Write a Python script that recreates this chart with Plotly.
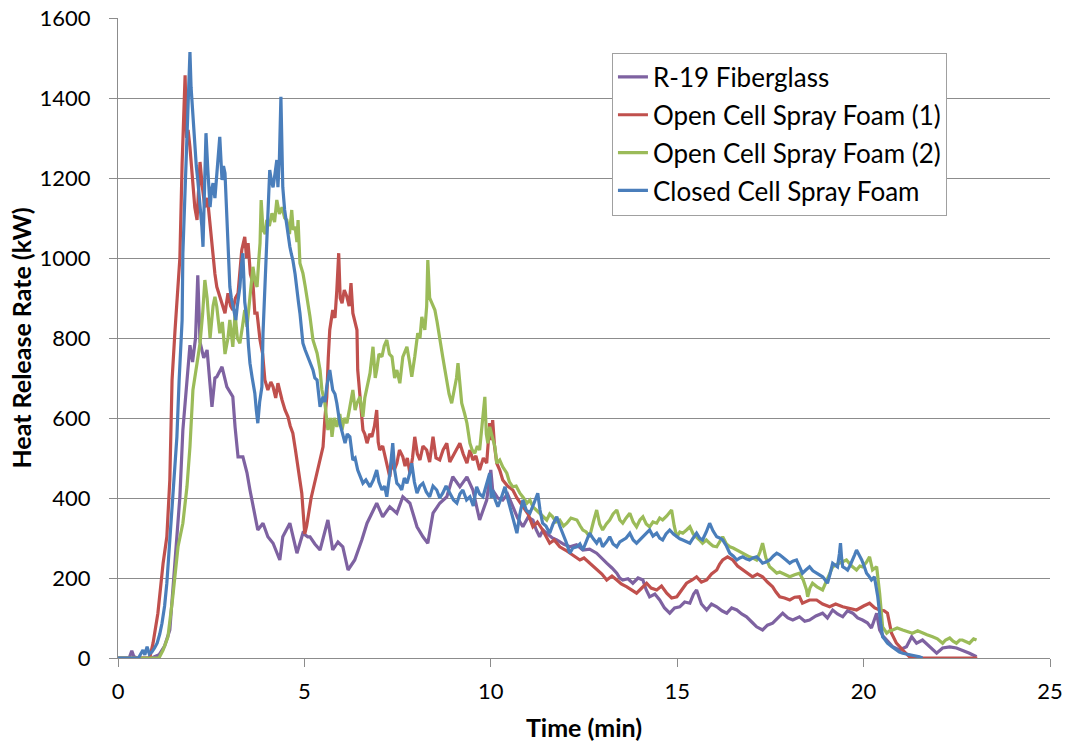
import plotly.graph_objects as go

# (time in min, heat release rate in kW)
r19_fiberglass = [
    (0, 0), (0.3, 0), (0.37, 18), (0.42, 5), (0.5, 0), (0.9, 0), (1.1, 8), (1.25, 30), (1.39, 70),
    (1.53, 237), (1.66, 403), (1.74, 570), (1.88, 712), (1.93, 782), (2.0, 740), (2.08, 800),
    (2.14, 957), (2.2, 790), (2.3, 750), (2.39, 770), (2.52, 628), (2.6, 700), (2.65, 703),
    (2.79, 728), (2.92, 678), (3.08, 653), (3.14, 578), (3.22, 503), (3.35, 503), (3.46, 463),
    (3.54, 420), (3.62, 378), (3.75, 320), (3.89, 337), (4.02, 303), (4.16, 287), (4.34, 245),
    (4.42, 303), (4.61, 337), (4.8, 262), (4.96, 312), (5.09, 303), (5.15, 303), (5.28, 285),
    (5.42, 270), (5.63, 345), (5.76, 270), (5.9, 290), (6.03, 278), (6.17, 220), (6.35, 245),
    (6.54, 295), (6.68, 337), (6.94, 387), (7.1, 353), (7.29, 378), (7.48, 362), (7.64, 403),
    (7.83, 387), (8.02, 328), (8.18, 303), (8.31, 287), (8.45, 362), (8.63, 387), (8.82, 403),
    (8.98, 453), (9.17, 428), (9.36, 453), (9.52, 420), (9.7, 345), (9.89, 395), (10.0, 470),
    (10.05, 420), (10.19, 400), (10.32, 395), (10.45, 410), (10.59, 378), (10.72, 350),
    (10.86, 328), (11.0, 352), (11.13, 345), (11.22, 320), (11.31, 303), (11.4, 320), (11.5, 312),
    (11.65, 300), (11.77, 295), (11.95, 285), (12.12, 278), (12.3, 283), (12.47, 270),
    (12.65, 272), (12.84, 262), (12.98, 248), (13.11, 237), (13.25, 225), (13.38, 212),
    (13.46, 200), (13.54, 195), (13.68, 198), (13.81, 187), (13.95, 200), (14.08, 195),
    (14.17, 170), (14.26, 153), (14.4, 160), (14.53, 145), (14.66, 125), (14.8, 112),
    (14.93, 125), (15.07, 128), (15.2, 140), (15.34, 137), (15.44, 160), (15.52, 170),
    (15.65, 135), (15.79, 120), (15.92, 135), (16.06, 128), (16.2, 118), (16.33, 112),
    (16.46, 125), (16.6, 120), (16.73, 110), (16.86, 103), (17.0, 90), (17.13, 78), (17.29, 70),
    (17.42, 82), (17.56, 87), (17.7, 100), (17.83, 112), (17.97, 100), (18.1, 95), (18.28, 103),
    (18.42, 92), (18.55, 95), (18.72, 105), (18.9, 112), (19.03, 100), (19.17, 120), (19.3, 110),
    (19.44, 103), (19.57, 118), (19.71, 112), (19.84, 100), (19.97, 95), (20.1, 88), (20.21, 75),
    (20.35, 112), (20.43, 70), (20.52, 55), (20.62, 45), (20.78, 28), (20.96, 20), (21.15, 28),
    (21.29, 53), (21.42, 37), (21.58, 45), (21.77, 28), (21.96, 12), (22.12, 25), (22.31, 28),
    (22.49, 25), (22.65, 20), (22.84, 12), (23.03, 3),
]

open_cell_1 = [
    (0, 0), (0.85, 0), (0.94, 37), (1.07, 112), (1.21, 237), (1.31, 303), (1.39, 445), (1.45, 695),
    (1.53, 820), (1.6, 930), (1.66, 1000), (1.72, 1237), (1.76, 1380), (1.80, 1457), (1.84, 1300),
    (1.88, 1320), (1.93, 1277), (2.0, 1200), (2.06, 1127), (2.12, 1095), (2.2, 1240), (2.26, 1180),
    (2.33, 1127), (2.4, 1150), (2.47, 1077), (2.55, 1012), (2.6, 960), (2.65, 928), (2.73, 903),
    (2.8, 880), (2.87, 862), (2.95, 912), (3.02, 880), (3.08, 870), (3.15, 900), (3.22, 912),
    (3.28, 980), (3.32, 1020), (3.40, 1053), (3.45, 1000), (3.49, 1037), (3.55, 960), (3.62, 937),
    (3.67, 862), (3.73, 862), (3.81, 795), (3.88, 760), (3.94, 695), (4.02, 670), (4.1, 690),
    (4.16, 678), (4.23, 650), (4.29, 687), (4.35, 660), (4.40, 645), (4.48, 620), (4.56, 603),
    (4.62, 580), (4.69, 562), (4.76, 520), (4.83, 478), (4.88, 440), (4.93, 412), (4.97, 360),
    (5.01, 310), (5.06, 330), (5.12, 370), (5.18, 400), (5.23, 420), (5.3, 450), (5.36, 470),
    (5.43, 500), (5.50, 528), (5.55, 600), (5.60, 653), (5.64, 750), (5.68, 820), (5.76, 870),
    (5.82, 850), (5.87, 920), (5.92, 1012), (5.96, 900), (6.01, 887), (6.07, 920), (6.14, 903),
    (6.2, 880), (6.25, 937), (6.30, 862), (6.36, 840), (6.41, 820), (6.43, 720), (6.49, 653),
    (6.57, 570), (6.62, 560), (6.68, 537), (6.75, 560), (6.81, 553), (6.88, 580), (6.94, 620),
    (6.98, 540), (7.02, 520), (7.1, 530), (7.16, 503), (7.22, 480), (7.29, 453), (7.35, 500),
    (7.41, 470), (7.48, 487), (7.55, 520), (7.64, 503), (7.7, 480), (7.76, 500), (7.83, 462),
    (7.9, 500), (7.96, 553), (8.03, 510), (8.10, 495), (8.18, 530), (8.28, 520), (8.36, 490),
    (8.45, 553), (8.53, 500), (8.63, 495), (8.72, 520), (8.82, 537), (8.9, 490), (8.98, 503),
    (9.07, 520), (9.17, 537), (9.26, 510), (9.36, 487), (9.44, 520), (9.52, 495), (9.6, 505),
    (9.70, 470), (9.8, 500), (9.89, 487), (9.94, 550), (9.97, 587), (10.01, 545), (10.05, 595),
    (10.10, 530), (10.16, 487), (10.24, 470), (10.32, 445), (10.45, 430), (10.59, 420),
    (10.7, 400), (10.86, 378), (11.0, 360), (11.13, 328), (11.25, 340), (11.39, 320),
    (11.48, 305), (11.58, 287), (11.7, 295), (11.85, 278), (12.0, 270), (12.12, 262),
    (12.25, 255), (12.39, 245), (12.5, 250), (12.65, 237), (12.75, 230), (12.84, 220),
    (12.98, 210), (13.11, 195), (13.25, 205), (13.38, 195), (13.5, 185), (13.65, 178),
    (13.78, 170), (13.91, 162), (14.05, 175), (14.18, 187), (14.3, 175), (14.45, 170),
    (14.58, 180), (14.72, 162), (14.85, 150), (14.99, 153), (15.12, 170), (15.25, 187),
    (15.4, 195), (15.52, 203), (15.65, 190), (15.79, 195), (15.92, 210), (16.06, 220),
    (16.14, 235), (16.22, 245), (16.35, 253), (16.49, 245), (16.62, 230), (16.76, 220),
    (16.9, 210), (17.02, 203), (17.15, 210), (17.29, 203), (17.42, 190), (17.56, 178),
    (17.65, 165), (17.75, 153), (17.88, 150), (18.02, 145), (18.15, 152), (18.28, 153),
    (18.36, 137), (18.55, 145), (18.74, 145), (18.9, 135), (19.09, 128), (19.25, 135),
    (19.44, 128), (19.6, 125), (19.81, 120), (20.0, 130), (20.16, 137), (20.3, 125),
    (20.43, 120), (20.55, 118), (20.64, 112), (20.75, 62), (20.88, 37), (21.05, 20),
    (21.23, 3), (21.4, 0), (23.05, 0),
]

open_cell_2 = [
    (0, 0), (1.1, 0), (1.21, 20), (1.34, 53), (1.47, 153), (1.61, 278), (1.74, 337), (1.85, 428),
    (1.93, 528), (2.01, 670), (2.12, 737), (2.2, 787), (2.27, 860), (2.33, 945), (2.39, 900),
    (2.47, 800), (2.55, 880), (2.6, 903), (2.65, 878), (2.73, 812), (2.8, 840), (2.87, 760),
    (2.95, 800), (3.0, 845), (3.08, 778), (3.14, 862), (3.2, 800), (3.27, 787), (3.34, 830),
    (3.40, 870), (3.46, 828), (3.54, 895), (3.62, 978), (3.68, 940), (3.73, 928), (3.78, 1000),
    (3.81, 1037), (3.84, 1145), (3.89, 1070), (3.95, 1060), (3.99, 1095), (4.06, 1080),
    (4.13, 1112), (4.2, 1090), (4.26, 1145), (4.33, 1110), (4.40, 1127), (4.47, 1100),
    (4.53, 1095), (4.6, 1060), (4.66, 1120), (4.7, 1070), (4.75, 1078), (4.8, 1040), (4.83, 1095),
    (4.88, 987), (4.96, 962), (5.02, 930), (5.07, 903), (5.15, 853), (5.23, 795), (5.34, 762),
    (5.42, 720), (5.47, 670), (5.55, 637), (5.63, 570), (5.7, 600), (5.74, 553), (5.8, 600),
    (5.87, 578), (5.95, 610), (6.01, 570), (6.07, 600), (6.14, 587), (6.22, 628), (6.3, 670),
    (6.36, 620), (6.41, 637), (6.49, 653), (6.57, 603), (6.62, 650), (6.68, 678), (6.76, 712),
    (6.84, 778), (6.9, 700), (6.94, 720), (7.0, 760), (7.08, 753), (7.14, 780), (7.21, 795),
    (7.28, 760), (7.35, 753), (7.42, 700), (7.48, 720), (7.56, 687), (7.64, 753), (7.70, 770),
    (7.75, 778), (7.82, 740), (7.88, 703), (7.96, 753), (8.04, 812), (8.1, 800), (8.15, 853),
    (8.23, 820), (8.28, 880), (8.31, 995), (8.36, 900), (8.42, 887), (8.50, 870), (8.56, 840),
    (8.63, 795), (8.71, 753), (8.77, 720), (8.82, 695), (8.88, 660), (8.95, 637), (9.03, 678),
    (9.08, 700), (9.12, 737), (9.17, 680), (9.22, 637), (9.3, 610), (9.36, 587), (9.44, 537),
    (9.5, 520), (9.57, 512), (9.64, 530), (9.70, 520), (9.77, 580), (9.84, 653), (9.88, 560),
    (9.92, 537), (9.97, 578), (10.03, 553), (10.11, 528), (10.16, 487), (10.24, 495),
    (10.32, 478), (10.43, 462), (10.5, 440), (10.59, 428), (10.68, 430), (10.78, 412),
    (10.88, 400), (10.97, 387), (11.05, 395), (11.13, 378), (11.22, 370), (11.31, 362),
    (11.4, 355), (11.5, 345), (11.58, 360), (11.66, 353), (11.75, 340), (11.85, 345),
    (11.95, 330), (12.04, 337), (12.15, 350), (12.31, 345), (12.4, 330), (12.47, 320),
    (12.56, 315), (12.65, 303), (12.75, 340), (12.84, 370), (12.92, 335), (13.0, 320),
    (13.1, 335), (13.19, 345), (13.28, 360), (13.38, 370), (13.46, 345), (13.54, 337),
    (13.63, 350), (13.73, 362), (13.82, 340), (13.91, 328), (14.0, 345), (14.08, 353),
    (14.17, 335), (14.26, 328), (14.35, 340), (14.45, 337), (14.53, 350), (14.61, 345),
    (14.72, 355), (14.85, 370), (14.92, 330), (14.99, 303), (15.07, 315), (15.15, 312),
    (15.25, 320), (15.34, 328), (15.43, 310), (15.52, 303), (15.6, 295), (15.68, 287),
    (15.78, 295), (15.87, 287), (15.96, 280), (16.06, 278), (16.14, 290), (16.22, 303),
    (16.32, 285), (16.41, 278), (16.5, 275), (16.6, 270), (16.68, 265), (16.76, 262),
    (16.85, 258), (16.94, 253), (17.03, 250), (17.13, 245), (17.22, 265), (17.29, 287),
    (17.38, 250), (17.48, 228), (17.58, 220), (17.67, 212), (17.75, 215), (17.83, 212),
    (17.92, 208), (18.02, 203), (18.15, 208), (18.28, 212), (18.38, 195), (18.47, 170),
    (18.50, 153), (18.56, 175), (18.63, 187), (18.75, 178), (18.9, 170), (19.03, 200),
    (19.17, 228), (19.3, 235), (19.42, 240), (19.54, 245), (19.68, 230), (19.81, 220),
    (19.9, 230), (19.97, 228), (20.08, 240), (20.16, 253), (20.24, 220), (20.35, 228),
    (20.43, 162), (20.51, 78), (20.62, 62), (20.7, 68), (20.78, 70), (20.9, 75), (21.05, 70),
    (21.18, 65), (21.31, 62), (21.45, 68), (21.58, 62), (21.7, 58), (21.85, 53), (21.98, 48),
    (22.12, 37), (22.2, 45), (22.31, 50), (22.4, 42), (22.49, 37), (22.58, 45), (22.65, 45),
    (22.75, 40), (22.84, 37), (22.95, 48), (23.03, 45),
]

closed_cell = [
    (0, 0), (0.55, 0), (0.62, 12), (0.67, 20), (0.72, 8), (0.78, 28), (0.84, 10), (0.91, 15),
    (0.98, 25), (1.05, 37), (1.12, 60), (1.18, 87), (1.25, 130), (1.31, 187), (1.39, 295),
    (1.47, 403), (1.53, 480), (1.58, 553), (1.64, 695), (1.69, 820), (1.72, 845), (1.74, 1012),
    (1.78, 1120), (1.82, 1220), (1.85, 1300), (1.88, 1387), (1.91, 1450), (1.93, 1515),
    (1.96, 1427), (2.01, 1345), (2.06, 1262), (2.1, 1230), (2.14, 1195), (2.2, 1140),
    (2.25, 1078), (2.28, 1028), (2.32, 1200), (2.36, 1312), (2.41, 1220), (2.47, 1127),
    (2.51, 1170), (2.55, 1187), (2.6, 1150), (2.65, 1203), (2.69, 1250), (2.73, 1303),
    (2.79, 1195), (2.83, 1230), (2.87, 1212), (2.92, 1095), (2.96, 1000), (3.0, 928), (3.04, 900),
    (3.08, 878), (3.12, 860), (3.16, 845), (3.2, 880), (3.27, 928), (3.31, 980), (3.35, 1012),
    (3.4, 890), (3.46, 845), (3.5, 780), (3.54, 737), (3.6, 700), (3.67, 662), (3.71, 620),
    (3.75, 587), (3.8, 640), (3.86, 678), (3.89, 812), (3.94, 920), (3.99, 1020), (4.03, 1100),
    (4.07, 1220), (4.12, 1190), (4.16, 1177), (4.21, 1210), (4.26, 1245), (4.29, 1177),
    (4.33, 1250), (4.37, 1403), (4.4, 1250), (4.42, 1177), (4.47, 1120), (4.53, 1078),
    (4.57, 1060), (4.61, 1028), (4.65, 1010), (4.69, 995), (4.75, 960), (4.8, 928), (4.84, 890),
    (4.88, 862), (4.93, 812), (4.96, 787), (5.02, 770), (5.09, 753), (5.16, 735), (5.23, 720),
    (5.28, 700), (5.34, 695), (5.42, 628), (5.50, 653), (5.55, 640), (5.60, 678), (5.68, 720),
    (5.72, 690), (5.76, 670), (5.82, 660), (5.87, 637), (5.95, 587), (6.02, 560), (6.09, 537),
    (6.15, 560), (6.22, 553), (6.30, 495), (6.36, 500), (6.43, 470), (6.5, 455), (6.57, 437),
    (6.65, 445), (6.76, 428), (6.85, 445), (6.94, 470), (7.0, 440), (7.08, 420), (7.15, 430),
    (7.21, 403), (7.29, 460), (7.37, 537), (7.42, 470), (7.48, 437), (7.55, 430), (7.61, 420),
    (7.68, 450), (7.75, 437), (7.82, 460), (7.88, 487), (7.95, 440), (8.02, 412), (8.1, 430),
    (8.18, 437), (8.27, 415), (8.36, 403), (8.45, 430), (8.55, 420), (8.63, 400), (8.71, 412),
    (8.8, 430), (8.90, 412), (9.0, 395), (9.09, 387), (9.17, 410), (9.25, 420), (9.35, 395),
    (9.44, 403), (9.53, 380), (9.62, 428), (9.7, 410), (9.79, 403), (9.88, 430), (9.97, 462),
    (10.01, 400), (10.05, 420), (10.12, 395), (10.19, 378), (10.28, 400), (10.38, 428),
    (10.45, 400), (10.51, 378), (10.6, 350), (10.70, 312), (10.78, 360), (10.86, 395),
    (10.95, 370), (11.05, 362), (11.15, 385), (11.26, 412), (11.32, 370), (11.39, 337),
    (11.48, 330), (11.58, 312), (11.67, 335), (11.77, 353), (11.85, 330), (11.93, 312),
    (12.02, 290), (12.12, 262), (12.2, 275), (12.31, 278), (12.39, 285), (12.47, 270),
    (12.56, 290), (12.65, 312), (12.75, 298), (12.84, 287), (12.92, 300), (13.0, 278),
    (13.1, 290), (13.19, 303), (13.28, 285), (13.38, 278), (13.46, 290), (13.54, 295),
    (13.63, 300), (13.73, 312), (13.82, 295), (13.91, 287), (14.0, 295), (14.08, 303),
    (14.17, 312), (14.26, 320), (14.35, 305), (14.45, 312), (14.53, 300), (14.61, 295),
    (14.7, 310), (14.80, 320), (14.9, 310), (14.99, 303), (15.07, 298), (15.15, 295),
    (15.25, 290), (15.34, 287), (15.43, 300), (15.52, 312), (15.6, 300), (15.68, 295),
    (15.78, 315), (15.87, 337), (15.96, 318), (16.06, 303), (16.14, 300), (16.22, 295),
    (16.32, 280), (16.41, 262), (16.5, 255), (16.6, 245), (16.68, 250), (16.76, 253),
    (16.85, 248), (16.94, 245), (17.03, 250), (17.13, 253), (17.22, 245), (17.29, 237),
    (17.38, 240), (17.48, 245), (17.58, 255), (17.67, 262), (17.75, 258), (17.83, 253),
    (17.92, 245), (18.02, 237), (18.1, 242), (18.2, 245), (18.28, 230), (18.36, 212),
    (18.45, 220), (18.55, 228), (18.64, 218), (18.74, 212), (18.82, 208), (18.90, 203),
    (18.97, 195), (19.03, 187), (19.1, 210), (19.17, 237), (19.24, 232), (19.30, 228),
    (19.35, 260), (19.38, 287), (19.41, 250), (19.44, 228), (19.5, 225), (19.57, 220),
    (19.64, 232), (19.71, 245), (19.76, 258), (19.81, 270), (19.88, 258), (19.95, 245),
    (20.02, 228), (20.08, 212), (20.14, 205), (20.21, 195), (20.29, 203), (20.38, 153),
    (20.46, 87), (20.51, 53), (20.58, 45), (20.64, 37), (20.76, 28), (20.88, 20), (20.96, 15),
    (21.05, 12), (21.18, 10), (21.31, 8), (21.4, 5), (21.5, 3), (21.58, 0),
]

series_names = ["R-19 Fiberglass", "Open Cell Spray Foam (1)",
                "Open Cell Spray Foam (2)", "Closed Cell Spray Foam"]
series_data = [r19_fiberglass, open_cell_1, open_cell_2, closed_cell]
series_colors = ["#7E62A1", "#C0504D", "#9BBB59", "#4A7EBB"]

x_ticks = [0, 5, 10, 15, 20, 25]
y_ticks = [0, 200, 400, 600, 800, 1000, 1200, 1400, 1600]

FONT = "Lato, 'Open Sans', sans-serif"

fig = go.Figure()
for i, (name, data, color) in enumerate(zip(series_names, series_data, series_colors)):
    fig.add_trace(go.Scatter(
        x=[p[0] for p in data], y=[p[1] for p in data],
        mode="lines", name=name, legendgroup=f"g{i}",
        line=dict(color=color, width=3.2),
    ))

fig.update_layout(
    width=1068, height=748,
    margin=dict(l=118, r=18, t=18, b=90),
    paper_bgcolor="white", plot_bgcolor="white",
    font=dict(family=FONT, size=22, color="black"),
    showlegend=True,
    legend=dict(
        x=0.530, y=0.946, xanchor="left", yanchor="top",
        bgcolor="white", bordercolor="#A0A0A0", borderwidth=1,
        font=dict(family=FONT, size=26, color="black"),
        tracegroupgap=1,
    ),
    xaxis=dict(
        range=[0, 25], tickvals=x_ticks, showgrid=False, zeroline=False, automargin=False,
        showline=True, linecolor="#8C8C8C", linewidth=1.3,
        ticks="outside", ticklen=8, tickcolor="#8C8C8C", tickwidth=1.3,
        tickfont=dict(size=22), ticklabelstandoff=5,
        title=dict(text="<b>Time (min)</b>", font=dict(size=25), standoff=16),
    ),
    yaxis=dict(
        range=[0, 1600], tickvals=y_ticks, showgrid=True, gridcolor="#8C8C8C", gridwidth=1.3,
        zeroline=False, showline=True, linecolor="#8C8C8C", linewidth=1.3, automargin=False,
        ticks="outside", ticklen=8, tickcolor="#8C8C8C", tickwidth=1.3,
        tickfont=dict(size=22), ticklabelstandoff=14,
        title=dict(text="<b>Heat Release Rate (kW)</b>", font=dict(size=25), standoff=0),
    ),
)

# remove the default page margin so the figure fills the 1068x748 window exactly
fig.write_html("out.html", config={"displayModeBar": False},
               post_script="document.body.style.margin='0';")
